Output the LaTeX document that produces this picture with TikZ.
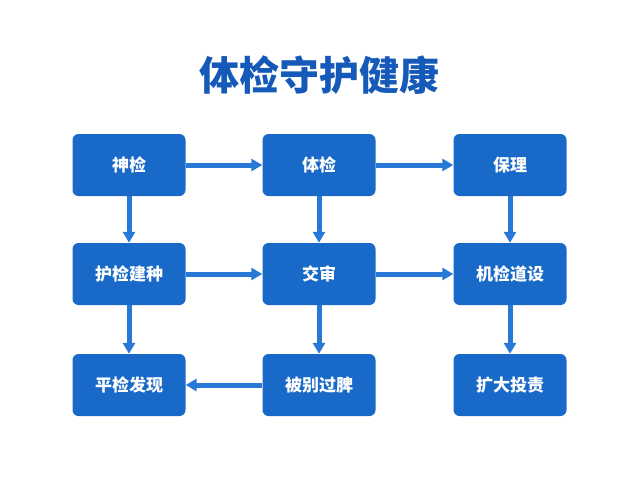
\documentclass[tikz,border=0pt]{standalone}
\usepackage{fontspec}
\setmainfont{Noto Sans CJK SC}
\usetikzlibrary{positioning,arrows.meta}
\definecolor{boxblue}{RGB}{25,105,200}
\definecolor{arrowblue}{RGB}{40,120,215}
\definecolor{titleblue}{RGB}{22,90,185}
\tikzset{
  stage/.style={draw=none, fill=boxblue, rounded corners=6pt, minimum width=113pt, minimum height=62pt, text=white, font=\fontsize{17}{20}\selectfont\bfseries},
  flow/.style={-{Triangle[length=11pt,width=12pt]}, line width=5pt, draw=arrowblue!70, color=arrowblue}
}
\begin{document}
\begin{tikzpicture}[x=1pt,y=-1pt]
  \useasboundingbox (0,0) rectangle (640,480);
  % title
  \node[text=titleblue, font=\fontsize{40}{46}\selectfont\bfseries] (title) at (319,75) {体检守护健康};
  % boxes
  \node[stage] (shen) at (129,165) {神检};
  \node[stage] (tijian) at (319,165) {体检};
  \node[stage] (baoli) at (510,165) {保理};
  \node[stage] (hujian) at (129,274) {护检建种};
  \node[stage] (jiaoshen) at (319,274) {交审};
  \node[stage] (jijian) at (510,274) {机检道设};
  \node[stage] (pingjian) at (129,385) {平检发现};
  \node[stage] (beibie) at (319,385) {被别过脾};
  \node[stage] (kuoda) at (510,385) {扩大投责};
  % connectors
  \draw[flow] (shen) -- (tijian);
  \draw[flow] (tijian) -- (baoli);
  \draw[flow] (hujian) -- (jiaoshen);
  \draw[flow] (jiaoshen) -- (jijian);
  \draw[flow] (beibie) -- (pingjian);
  \draw[flow] (shen) -- (hujian);
  \draw[flow] (tijian) -- (jiaoshen);
  \draw[flow] (baoli) -- (jijian);
  \draw[flow] (hujian) -- (pingjian);
  \draw[flow] (jiaoshen) -- (beibie);
  \draw[flow] (jijian) -- (kuoda);
\end{tikzpicture}
\end{document}
